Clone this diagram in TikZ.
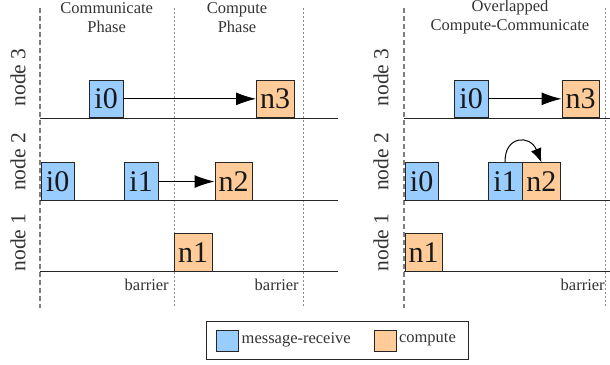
\documentclass[tikz,border=0pt]{standalone}
\usepackage{fontspec}
\setmainfont{Liberation Serif}
\usetikzlibrary{arrows.meta}
\definecolor{msgc}{HTML}{99CCFF}
\definecolor{compc}{HTML}{FFCC99}
\definecolor{txtc}{HTML}{333333}
\newcommand\boxfnt{\fontsize{30}{30}\selectfont}
\newcommand\labfnt{\fontsize{21.5}{22}\selectfont}
\newcommand\smallfnt{\fontsize{16.5}{19}\selectfont}
\tikzset{
  msgbox/.style={draw=black!85, line width=0.8pt, fill=msgc, minimum width=33.5pt, minimum height=37.5pt, inner sep=0pt, font=\boxfnt, text=black!90, anchor=south west},
  compbox/.style={draw=black!85, line width=0.8pt, fill=compc, minimum width=37.5pt, minimum height=37.5pt, inner sep=0pt, font=\boxfnt, text=black!90, anchor=south west},
  timeline/.style={line width=0.9pt, black!85},
  thickdash/.style={line width=2.6pt, black!50, dash pattern=on 5pt off 3pt},
  thindot/.style={line width=0.6pt, black!45, dash pattern=on 2pt off 2pt},
  nodelab/.style={rotate=90, font=\labfnt, text=txtc, inner sep=0pt},
  title/.style={font=\smallfnt, text=txtc, align=center, inner sep=0pt},
  barlab/.style={font=\smallfnt, text=txtc, inner sep=0pt},
  conn/.style={line width=1pt, -{Latex[length=20pt,width=13pt]}},
  swatch/.style={draw=black!85, line width=0.8pt, minimum width=21.5pt, minimum height=21pt, inner sep=0pt},
}
\begin{document}
\begin{tikzpicture}[x=1pt,y=-1pt]
\useasboundingbox (0,0) rectangle (610,364);
% vertical guides
\draw[thindot] (174,8) -- (174,306);
\draw[thindot] (303,8) -- (303,306);
\draw[thindot] (605,8) -- (605,306);
\draw[thickdash] (40,8) -- (40,308);
\draw[thickdash] (404,8) -- (404,308);
% timelines
\foreach \y in {118,200.7,271.7}{
  \draw[timeline] (40,\y) -- (338,\y);
  \draw[timeline] (404,\y) -- (610,\y);
}
% titles
\node[title] (t1) at (106.7,17.5) {Communicate\\Phase};
\node[title] (t2) at (237,17.5) {Compute\\Phase};
\node[title] (t3) at (510,17.5) {Overlapped\\Compute-Communicate};
% node labels
\node[nodelab] (l3a) at (18,77.5) {node 3};
\node[nodelab] (l2a) at (18,162) {node 2};
\node[nodelab] (l1a) at (18,242.5) {node 1};
\node[nodelab] (l3b) at (381,77.5) {node 3};
\node[nodelab] (l2b) at (381,162) {node 2};
\node[nodelab] (l1b) at (381,242.5) {node 1};
% left panel boxes
\node[msgbox] (a3i0) at (89,118) {i0};
\node[compbox] (a3n3) at (256,118) {n3};
\node[msgbox] (a2i0) at (40.5,200.7) {i0};
\node[msgbox] (a2i1) at (124,200.7) {i1};
\node[compbox] (a2n2) at (214.5,200.7) {n2};
\node[compbox] (a1n1) at (174,271.7) {n1};
\draw[conn] (a3i0) -- (a3n3);
\draw[conn] (a2i1) -- (a2n2);
% right panel boxes
\node[msgbox] (b3i0) at (454,118) {i0};
\node[compbox] (b3n3) at (561.5,118) {n3};
\node[msgbox] (b2i0) at (404.5,200.7) {i0};
\node[msgbox] (b2i1) at (488,200.7) {i1};
\node[compbox] (b2n2) at (b2i1.south east) {n2};
\node[compbox] (b1n1) at (404.5,271.7) {n1};
\draw[conn] (b3i0) -- (b3n3);
\draw[line width=1pt, -{Latex[length=14pt,width=11pt]}] (b2i1.north) .. controls (504,136) and (530,134) .. (b2n2.north);
% barrier labels
\node[barlab] (bar1) at (146.7,285) {barrier};
\node[barlab] (bar2) at (276.7,285) {barrier};
\node[barlab] (bar3) at (582.7,285) {barrier};
% legend
\node[draw=black!85, line width=0.8pt, minimum width=261.6pt, minimum height=37.6pt, inner sep=0pt] (leg) at (337.5,340.5) {};
\node[swatch, fill=msgc] (sw1) at (227.5,341.2) {};
\node[anchor=west, font=\smallfnt, text=txtc, inner sep=0pt] (lt1) at (241.5,340) {message-receive};
\node[swatch, fill=compc] (sw2) at (385.3,341.2) {};
\node[anchor=west, font=\smallfnt, text=txtc, inner sep=0pt] (lt2) at (398.8,340) {compute};
\end{tikzpicture}
\end{document}
